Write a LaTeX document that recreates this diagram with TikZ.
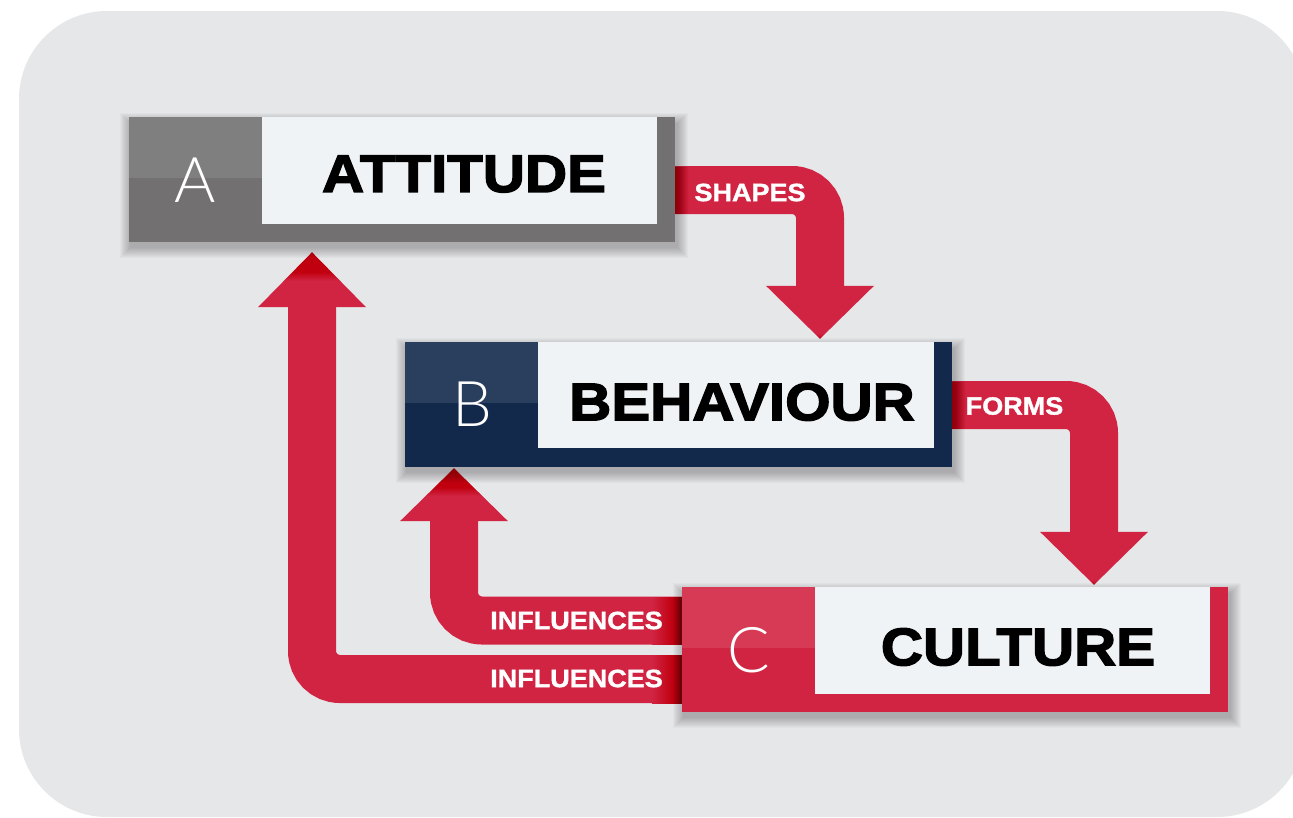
\documentclass[tikz,border=0pt]{standalone}
\usepackage{fontspec}
\usetikzlibrary{calc}

% Fonts: heavy sans for the words, light sans for the letters
\newfontfamily\wordfont{Liberation Sans}[FakeStretch=1.1, BoldFeatures={FakeBold=2.6}]
\newfontfamily\tagfont{Liberation Sans}[FakeStretch=1.08, BoldFeatures={FakeBold=1.4}]
\newfontfamily\thinfont{Lato Light}

% Colours
\definecolor{bgc}{HTML}{E6E7E9}
\definecolor{panelc}{HTML}{F0F3F5}
\definecolor{arrowred}{HTML}{D12443}
\definecolor{tipred}{HTML}{C0000F}
\definecolor{darkend}{HTML}{7E0010}
\definecolor{Aframe}{HTML}{737071}
\definecolor{Atop}{HTML}{7F7F7F}
\definecolor{Bframe}{HTML}{13294B}
\definecolor{Btop}{HTML}{2A3E5E}
\definecolor{Cframe}{HTML}{D12443}
\definecolor{Ctop}{HTML}{D73A55}

% Shadings for arrow heads and band ends
\pgfdeclareverticalshading{tipup}{100bp}{color(0bp)=(arrowred); color(25bp)=(arrowred); color(49bp)=(arrowred); color(57bp)=(tipred); color(75bp)=(tipred); color(100bp)=(tipred)}
\pgfdeclareverticalshading{tipdown}{100bp}{color(0bp)=(tipred); color(25bp)=(tipred); color(30bp)=(arrowred); color(75bp)=(arrowred); color(100bp)=(arrowred)}
\pgfdeclarehorizontalshading{endshade}{100bp}{color(0bp)=(arrowred); color(25bp)=(arrowred); color(60bp)=(tipred); color(75bp)=(darkend); color(100bp)=(darkend)}
\pgfdeclarehorizontalshading{startshade}{100bp}{color(0bp)=(tipred); color(25bp)=(tipred); color(75bp)=(arrowred); color(100bp)=(arrowred)}

\tikzset{
  band/.style={draw=arrowred, line width=48pt, rounded corners=28pt},
  slot/.style={rectangle, inner sep=0pt, minimum width=546pt, minimum height=125pt},
  haze/.style={fill=black, opacity=0.022},
  letter/.style={inner sep=0pt, text=white, font=\thinfont\fontsize{63}{63}\selectfont},
  word/.style={inner sep=0pt, text=black, font=\wordfont\bfseries\fontsize{53}{53}\selectfont},
  tag/.style={inner sep=0pt, text=white, font=\tagfont\bfseries\fontsize{25}{25}\selectfont},
}

% soft drop shadow under a card: stacked, growing, faint rectangles
\newcommand\softshadow[1]{%
  \foreach \k in {1,...,11}
    \fill[haze] ($(#1.north west)+(2-\k,7-\k)$) rectangle ($(#1.south east)+(2+\k,5+\k)$);%
}

\begin{document}
\begin{tikzpicture}[x=1pt,y=-1pt]
\useasboundingbox (0,0) rectangle (1293,817);
\fill[white] (0,0) rectangle (1293,817);
% rounded backdrop
\fill[bgc, rounded corners=88pt] (19,11) rectangle (1305,817);

% card places (set first so the arrows can refer to them)
\path (402,179.5) node[slot] (A) {}
      (678.5,404.5) node[slot, minimum width=547pt] (B) {}
      (955,649.5) node[slot] (C) {};

% arrow end points
\coordinate (s1) at ($(A.east)+(-10,10.5)$);
\coordinate (t1) at ($(B.north)+(141.5,-3)$);
\coordinate (s2) at ($(B.east)+(-12,0.5)$);
\coordinate (t2) at ($(C.north)+(139,-2)$);
\coordinate (s3) at ($(C.west)+(13,-29)$);
\coordinate (t3) at ($(B.south)+(-224.5,1)$);
\coordinate (s4) at ($(C.west)+(13,29.5)$);
\coordinate (t4) at ($(A.south)+(-90,10)$);

% A shapes B
\draw[band] (s1) -| ($(t1)+(0,-51)$);
\shade[shading=tipdown] ($(t1)+(-54,-53)$) -- ($(t1)+(54,-53)$) -- (t1) -- cycle;
\shade[shading=startshade] ($(A.east)+(0,-12.5)$) rectangle ($(A.east)+(14,33.5)$);
% B forms C
\draw[band] (s2) -| ($(t2)+(0,-51)$);
\shade[shading=tipdown] ($(t2)+(-54,-53)$) -- ($(t2)+(54,-53)$) -- (t2) -- cycle;
\shade[shading=startshade] ($(B.east)+(0,-22.5)$) rectangle ($(B.east)+(14,23.5)$);
% C influences B
\draw[band] (s3) -| ($(t3)+(0,51)$);
\shade[shading=tipup] ($(t3)+(-54,53)$) -- ($(t3)+(54,53)$) -- (t3) -- cycle;
\shade[shading=endshade] ($(C.west)+(-30,-52.5)$) rectangle ($(C.west)+(0,-5.5)$);
% C influences A
\draw[band] (s4) -| ($(t4)+(0,53)$);
\shade[shading=tipup] ($(t4)+(-54,55)$) -- ($(t4)+(54,55)$) -- (t4) -- cycle;
\shade[shading=endshade] ($(C.west)+(-30,5.5)$) rectangle ($(C.west)+(0,53.5)$);

% arrow captions
\node[tag] (lshapes) at (750,192.5) {SHAPES};
\node[tag] (lforms) at (1014.5,406) {FORMS};
\node[tag] (linfB) at (576.5,620.5) {INFLUENCES};
\node[tag] (linfA) at (576.5,678.5) {INFLUENCES};

% cards drawn on top of the arrow ends
\softshadow{A}
\fill[Aframe] (A.north west) rectangle (A.south east);
\fill[Atop] (A.north west) rectangle ($(A.north west)+(133,61)$);
\fill[panelc] ($(A.north west)+(133,0)$) rectangle ($(A.south east)+(-18,-18)$);

\softshadow{B}
\fill[Bframe] (B.north west) rectangle (B.south east);
\fill[Btop] (B.north west) rectangle ($(B.north west)+(133,61)$);
\fill[panelc] ($(B.north west)+(133,0)$) rectangle ($(B.south east)+(-18,-19)$);

\softshadow{C}
\fill[Cframe] (C.north west) rectangle (C.south east);
\fill[Ctop] (C.north west) rectangle ($(C.north west)+(133,61)$);
\fill[panelc] ($(C.north west)+(133,0)$) rectangle ($(C.south east)+(-18,-18)$);

% letters and words
\node[letter] (la) at ($(A.west)+(66.5,0.5)$) {A};
\node[letter] (lb) at ($(B.west)+(68,0)$) {B};
\node[letter] (lc) at ($(C.west)+(67,0.5)$) {C};
\node[word] (wa) at (464,174) {ATTITUDE};
\node[word] (wb) at (742,402) {BEHAVIOUR};
\node[word] (wc) at (1018,647) {CULTURE};
\end{tikzpicture}
\end{document}
